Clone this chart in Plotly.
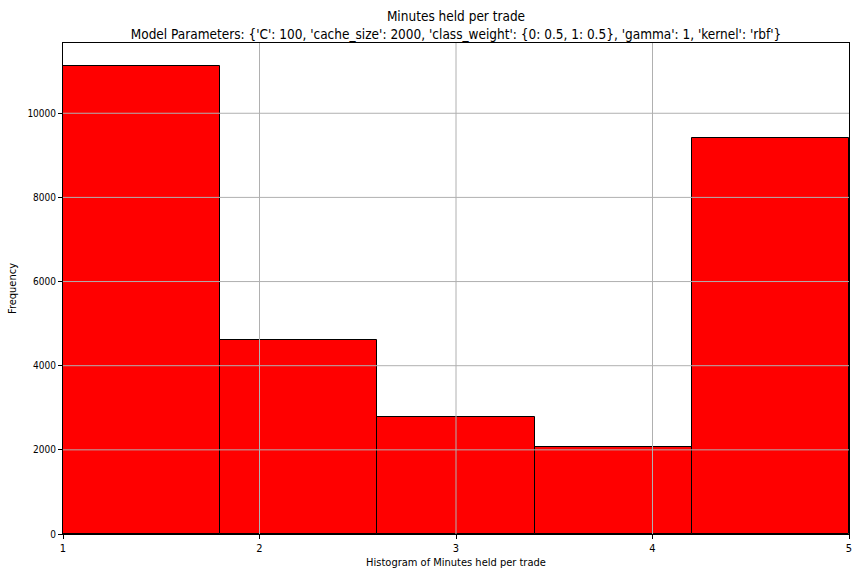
import plotly.graph_objects as go

# data
bin_edges = [1.0, 1.8, 2.6, 3.4, 4.2, 5.0]
counts = [11114, 4614, 2789, 2062, 9415]
x_ticks = [1, 2, 3, 4, 5]
y_ticks = [0, 2000, 4000, 6000, 8000, 10000]

title_line1 = "Minutes held per trade"
title_line2 = ("Model Parameters: {'C': 100, 'cache_size': 2000, "
               "'class_weight': {0: 0.5, 1: 0.5}, 'gamma': 1, 'kernel': 'rbf'}")

centers = [(a + b) / 2 for a, b in zip(bin_edges[:-1], bin_edges[1:])]
widths = [b - a for a, b in zip(bin_edges[:-1], bin_edges[1:])]

FONT = "DejaVu Sans Condensed, Liberation Sans Narrow, DejaVu Sans, sans-serif"

fig = go.Figure()
fig.add_trace(go.Bar(
    x=centers, y=counts, width=widths,
    marker=dict(color="#ff0000", line=dict(color="black", width=1)),
    showlegend=False,
))

ymax = max(counts) * 1.05

shapes = []
for xv in x_ticks[1:-1]:
    shapes.append(dict(type="line", xref="x", yref="paper", x0=xv, x1=xv, y0=0, y1=1,
                       line=dict(color="#b0b0b0", width=1), layer="above"))
for yv in y_ticks[1:]:
    shapes.append(dict(type="line", xref="paper", yref="y", x0=0, x1=1, y0=yv, y1=yv,
                       line=dict(color="#b0b0b0", width=1), layer="above"))

fig.update_layout(
    width=864, height=576,
    margin=dict(l=63, r=15, t=43, b=42),
    paper_bgcolor="white", plot_bgcolor="white",
    font=dict(family=FONT, size=10, color="black"),
    title=dict(text=title_line1 + "<br>" + title_line2,
               x=(63 + 849) / 2 / 864, xanchor="center",
               y=1 - 21 / 576, yanchor="top",
               font=dict(size=13.5, family=FONT, color="black")),
    bargap=0,
    shapes=shapes,
)
fig.update_xaxes(
    range=[bin_edges[0], bin_edges[-1]],
    tickvals=x_ticks, ticktext=[str(v) for v in x_ticks],
    showgrid=False, zeroline=False, automargin=False,
    showline=True, mirror=True, linecolor="black", linewidth=1,
    ticks="outside", ticklen=4, tickcolor="black",
    tickfont=dict(size=11),
    title=dict(text="Histogram of Minutes held per trade", standoff=4,
               font=dict(size=11)),
)
fig.update_yaxes(
    range=[0, ymax],
    tickvals=y_ticks, ticktext=[str(v) for v in y_ticks],
    showgrid=False, zeroline=False, automargin=False,
    showline=True, mirror=True, linecolor="black", linewidth=1,
    ticks="outside", ticklen=4, tickcolor="black",
    tickfont=dict(size=10),
    title=dict(text="Frequency", standoff=8, font=dict(size=11)),
)

fig.write_html("out.html",
               config={"displayModeBar": False},
               post_script="document.body.style.margin='0';document.body.style.padding='0';")
